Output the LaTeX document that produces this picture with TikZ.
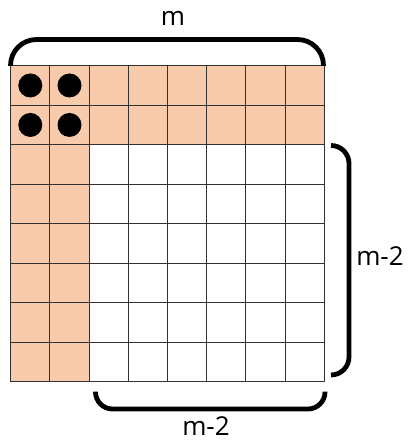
\documentclass[tikz,border=0pt]{standalone}
\usepackage{fontspec}
\setmainfont{Open Sans}
\usetikzlibrary{positioning}
\definecolor{GridPeach}{RGB}{248,203,173}
\definecolor{GridLine}{RGB}{50,50,50}
\tikzset{
  grid/cell/.style={fill=GridPeach, draw=none},
  grid/line/.style={draw=GridLine, line width=1pt},
  grid/dot/.style={fill=black},
  grid/brace/.style={draw=black, line width=4.8pt},
  grid/label/.style={font=\fontsize{26}{29}\selectfont, text=black, inner sep=0pt}
}
\begin{document}
\begin{tikzpicture}[x=1pt,y=-1pt]
  \useasboundingbox (0,0) rectangle (408,441);
  % board, in cells
  \begin{scope}[shift={(10.7,65.7)},x=39.2pt,y=-39.5pt]
    \fill[grid/cell] (0,0) rectangle (8,2);
    \fill[grid/cell] (0,2) rectangle (2,8);
    \foreach \k in {0,...,8} {
      \draw[grid/line] (\k,0) -- (\k,8);
      \draw[grid/line] (0,\k) -- (8,\k);
    }
    \foreach \i in {0,1} {
      \foreach \j in {0,1} {
        \fill[grid/dot] (\i+0.5,\j+0.5) circle[radius=12pt];
      }
    }
  \end{scope}
  % braces
  \draw[grid/brace, rounded corners=26pt] (10.5,66) -- (10.5,39.5) -- (323.5,39.5) -- (323.5,66);
  \draw[grid/brace, rounded corners=18pt] (331,145.5) -- (349,145.5) -- (349,375) -- (331,375);
  \draw[grid/brace, rounded corners=17pt] (95.5,391.5) -- (95.5,409) -- (325,409) -- (325,391.5);
  % labels
  \node[grid/label] (mtop) at (173,18) {m};
  \node[grid/label] (mright) at (380,256) {m-2};
  \node[grid/label] (mbottom) at (206,426) {m-2};
\end{tikzpicture}
\end{document}
